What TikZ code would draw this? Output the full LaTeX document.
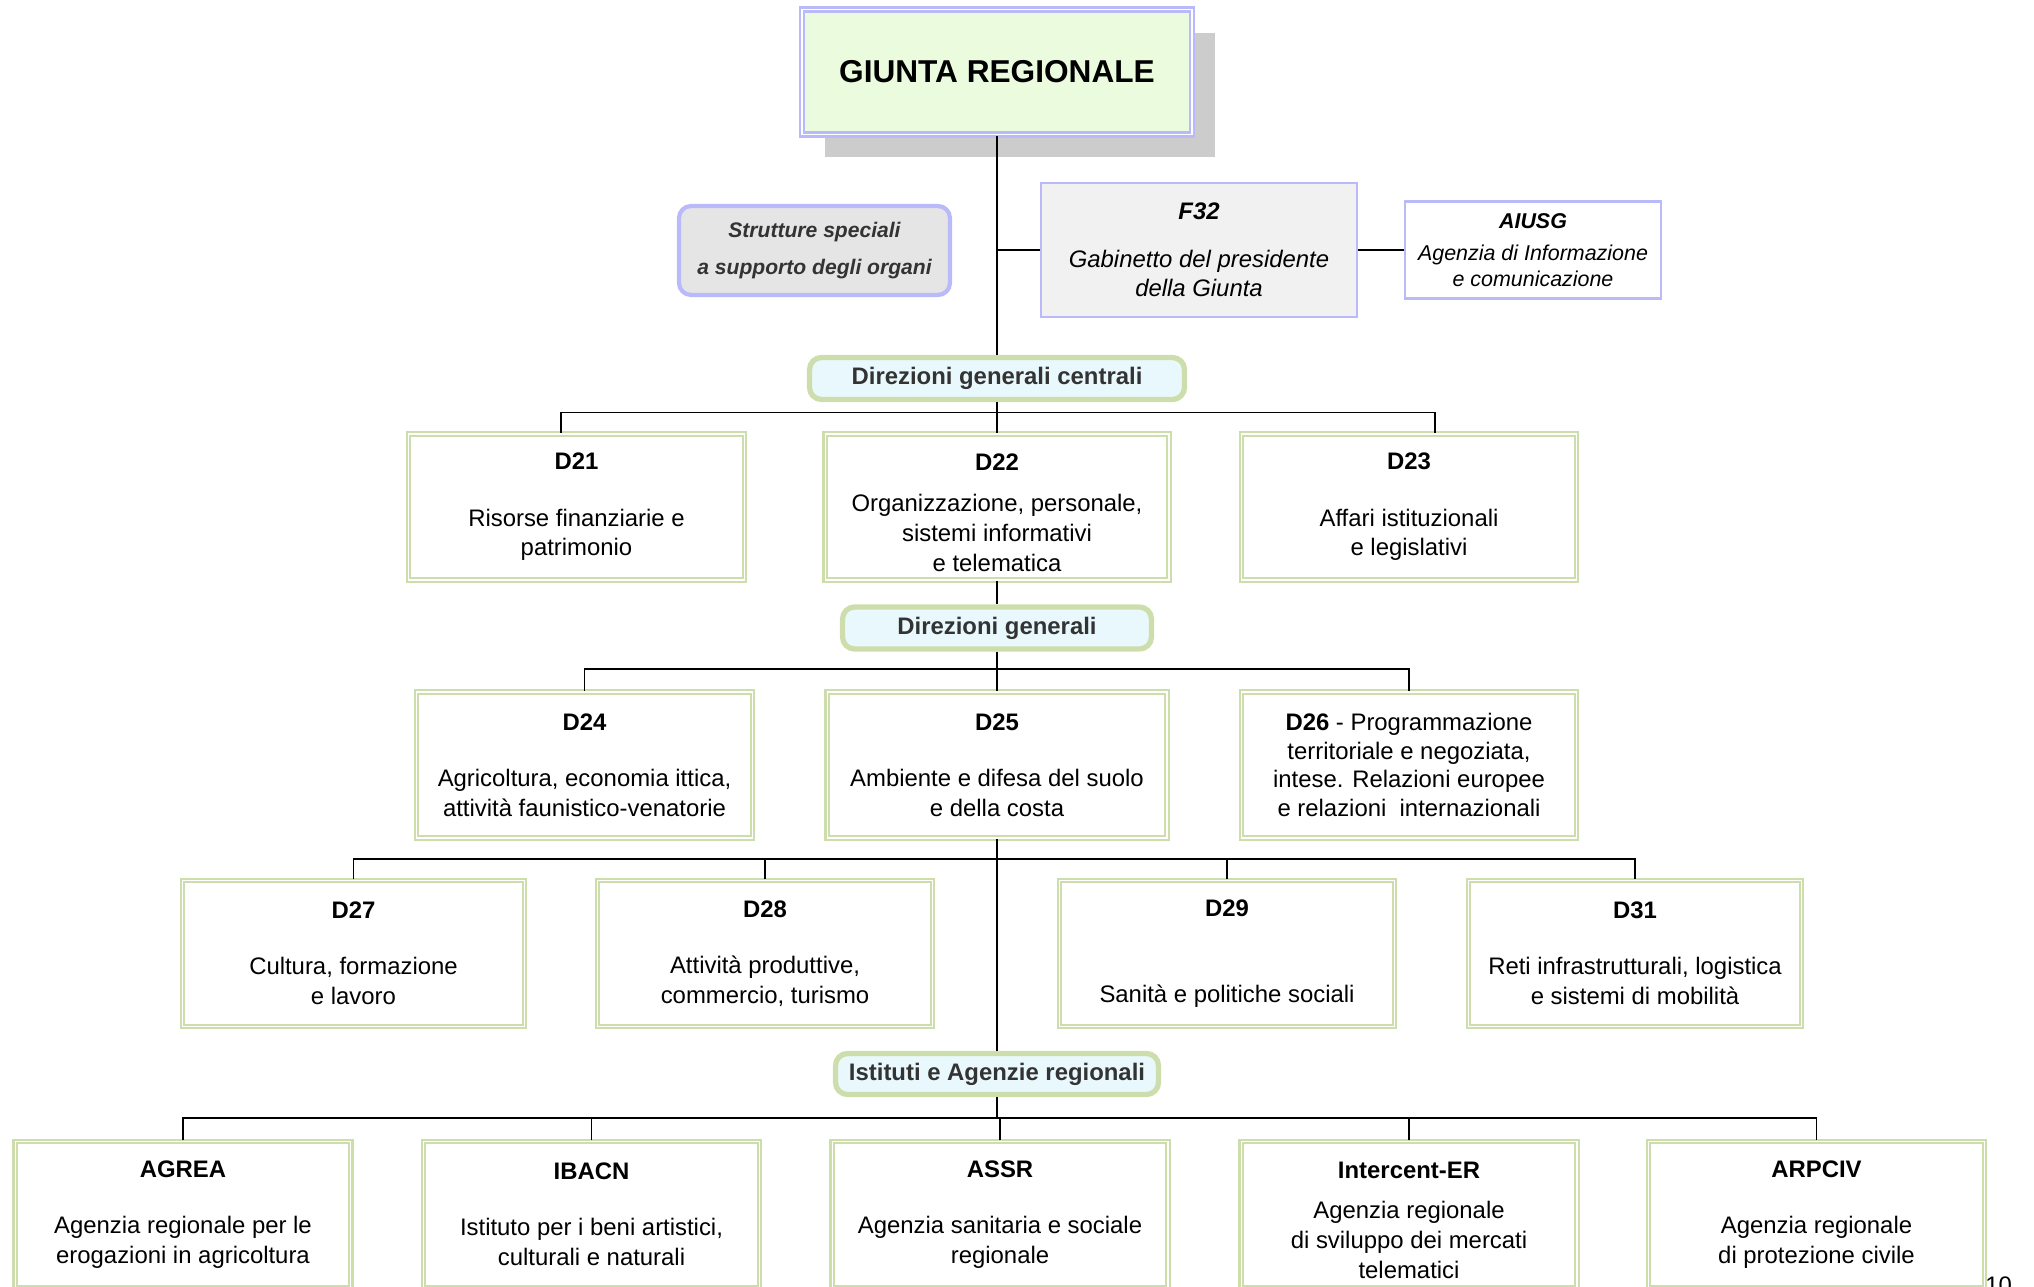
\documentclass[tikz,border=0pt]{standalone}
\usepackage{fontspec}
\setmainfont{Liberation Sans}
\usetikzlibrary{positioning,shadows}

\definecolor{lavender}{RGB}{186,186,250}
\definecolor{leaf}{RGB}{205,222,172}
\definecolor{mint}{RGB}{235,252,222}
\definecolor{ice}{RGB}{232,248,252}
\definecolor{shade}{RGB}{204,204,204}
\definecolor{paper}{RGB}{241,241,241}
\definecolor{ash}{RGB}{229,229,229}
\definecolor{ink}{RGB}{51,51,51}

\begin{document}
\begin{tikzpicture}[x=0.02cm,y=-0.02cm,
	every node/.style={font=\fontsize{13.6}{17}\selectfont, align=center, inner sep=0pt},
	topbox/.style={draw=lavender, double=white, line width=1.4pt, double distance=0.7pt, fill=mint,
		minimum width=7.8cm, minimum height=2.5cm, font=\fontsize{18}{22}\selectfont\bfseries},
	staffbox/.style={draw=lavender, line width=2.4pt, fill=ash, rounded corners=0.24cm, text=ink,
		minimum width=5.42cm, minimum height=1.78cm, font=\fontsize{12}{21}\selectfont\bfseries\itshape},
	cabbox/.style={draw=lavender, line width=1.4pt, fill=paper, font=\fontsize{13.6}{17}\selectfont\itshape},
	groupbox/.style={draw=leaf, fill=ice, line width=3pt, rounded corners=0.24cm, text=ink,
		minimum height=0.84cm, font=\fontsize{13.6}{17}\selectfont\bfseries},
	dirbox/.style={draw=leaf, double=white, line width=1.35pt, double distance=0.6pt,
		minimum width=6.72cm, minimum height=2.92cm},
	conn/.style={draw=black, line width=0.8pt}]

	\useasboundingbox (0,0) rectangle (2034,1287);

	% vertice
	\node (giunta) [topbox, drop shadow={shadow xshift=0.46cm, shadow yshift=-0.46cm, fill=shade, opacity=1}]
		at (997,72) {GIUNTA REGIONALE};
	\node (strut) [staffbox] at (814.5,250.5) {Strutture speciali\\a supporto degli organi};
	\node (f32) [cabbox, minimum width=6.32cm, minimum height=2.68cm] at (1199,250)
		{\textbf{F32}\\[10pt] Gabinetto del presidente\\della Giunta};
	\node (aiusg) [cabbox, fill=white, minimum width=5.12cm, minimum height=1.94cm,
		font=\fontsize{12.2}{14.7}\selectfont\itshape] at (1533,250)
		{\textbf{AIUSG}\\[3.7pt] Agenzia di Informazione\\e comunicazione};

	% direzioni centrali
	\node (dgc) [groupbox, minimum width=7.5cm] at (997,378.5) {Direzioni generali centrali};
	\node (d21) [dirbox] at (576.5,507) {\textbf{D21}\\[15pt] Risorse finanziarie e\\patrimonio};
	\node (d22) [dirbox, minimum width=6.88cm] at (997,507)
		{\mbox{}\\[-1pt]\textbf{D22}\\[6pt] Organizzazione, personale,\\sistemi informativi\\e telematica};
	\node (d23) [dirbox, minimum width=6.7cm] at (1409,507) {\textbf{D23}\\[15pt] Affari istituzionali\\e legislativi};

	% direzioni generali
	\node (dg) [groupbox, minimum width=6.18cm] at (997,628) {Direzioni generali};
	\node (d24) [dirbox] at (584.5,765) {\textbf{D24}\\[15pt] Agricoltura, economia ittica,\\attività faunistico-venatorie};
	\node (d25) [dirbox, minimum width=6.8cm] at (997,765) {\textbf{D25}\\[15pt] Ambiente e difesa del suolo\\e della costa};
	\node (d26) [dirbox, minimum width=6.7cm, font=\fontsize{13.6}{16.4}\selectfont] at (1409,765)
		{\textbf{D26} - Programmazione\\territoriale e negoziata,\\intese. Relazioni europee\\e relazioni\ \ internazionali};
	\node (d27) [dirbox, minimum width=6.84cm] at (353.5,953.5) {\textbf{D27}\\[15pt] Cultura, formazione\\e lavoro};
	\node (d28) [dirbox, minimum width=6.7cm] at (765,953.5) {\textbf{D28}\\[15pt] Attività produttive,\\commercio, turismo};
	\node (d29) [dirbox, minimum width=6.7cm] at (1227,953.5) {\textbf{D29}\\[32pt] Sanità e politiche sociali};
	\node (d31) [dirbox, minimum width=6.66cm] at (1635,953.5) {\textbf{D31}\\[15pt] Reti infrastrutturali, logistica\\e sistemi di mobilità};

	% istituti e agenzie
	\node (ist) [groupbox, minimum width=6.46cm, minimum height=0.82cm] at (997,1074) {Istituti e Agenzie regionali};
	\node (agrea) [dirbox] at (183,1214.5) {\textbf{AGREA}\\[15pt] Agenzia regionale per le\\erogazioni in agricoltura};
	\node (ibacn) [dirbox] at (591.5,1214.5) {\textbf{IBACN}\\[15pt] Istituto per i beni artistici,\\culturali e naturali};
	\node (assr) [dirbox] at (1000,1214.5) {\textbf{ASSR}\\[15pt] Agenzia sanitaria e sociale\\regionale};
	\node (intercent) [dirbox] at (1409,1214.5)
		{\mbox{}\\[-1pt]\textbf{Intercent-ER}\\[6pt] Agenzia regionale\\di sviluppo dei mercati\\telematici};
	\node (arpciv) [dirbox] at (1816.5,1214.5) {\textbf{ARPCIV}\\[15pt] Agenzia regionale\\di protezione civile};

	\node (pagenum) [anchor=north west] at (1985,1276) {10};

	% collegamenti
	\coordinate (busA) at (997,412.5);
	\coordinate (busB) at (997,669);
	\coordinate (busC) at (997,859);
	\coordinate (busD) at (997,1118);

	\draw[conn] (giunta) -- (dgc);
	\draw[conn] (giunta.south |- f32.west) -- (f32.west);
	\draw[conn] (f32) -- (aiusg);
	\draw[conn] (dgc) -- (d22);
	\draw[conn] ([xshift=-0.31cm]d21.north) |- (busA) -| ([xshift=0.52cm]d23.north);
	\draw[conn] (d22) -- (dg);
	\draw[conn] (dg) -- (d25);
	\draw[conn] (d24.north) |- (busB) -| (d26.north);
	\draw[conn] (d25) -- (ist);
	\draw[conn] (d27.north) |- (busC) -| (d31.north);
	\foreach \n in {d28,d29}
		\draw[conn] (\n.north) -- (\n.north |- busC);
	\draw[conn] (ist.south) -- (busD);
	\draw[conn] (agrea.north) |- (busD) -| (arpciv.north);
	\foreach \n in {ibacn,assr,intercent}
		\draw[conn] (\n.north) -- (\n.north |- busD);
\end{tikzpicture}
\end{document}
